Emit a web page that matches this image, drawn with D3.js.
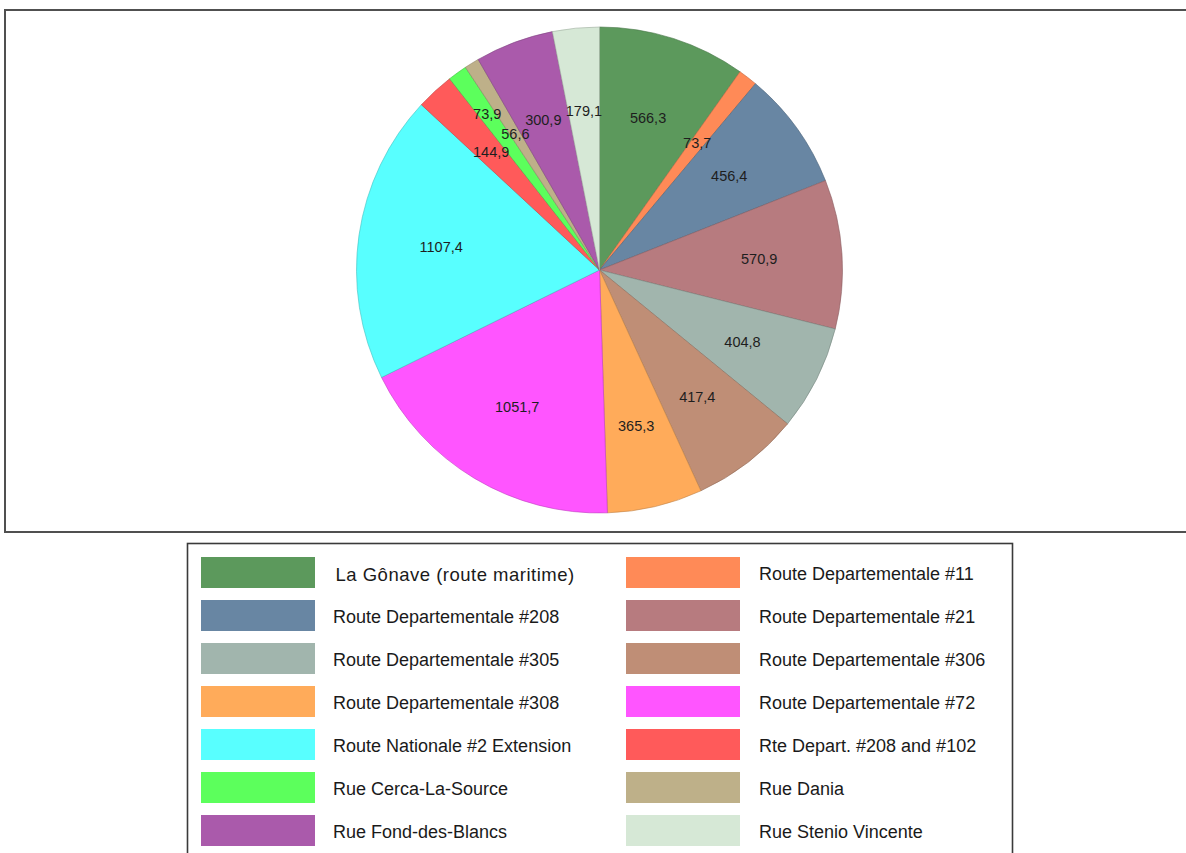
<!DOCTYPE html>
<html>
<head>
<meta charset="utf-8">
<script src="https://cdn.jsdelivr.net/npm/d3@7"></script>
<style>
  html, body { margin: 0; padding: 0; background: #fff; }
  svg { display: block; }
</style>
</head>
<body>
<svg id="chart" width="1186" height="853"></svg>
<script>
const categories = [
  "La Gônave (route maritime)",
  "Route Departementale #11",
  "Route Departementale #208",
  "Route Departementale #21",
  "Route Departementale #305",
  "Route Departementale #306",
  "Route Departementale #308",
  "Route Departementale #72",
  "Route Nationale #2 Extension",
  "Rte Depart. #208 and #102",
  "Rue Cerca-La-Source",
  "Rue Dania",
  "Rue Fond-des-Blancs",
  "Rue Stenio Vincente"
];
const values = [566.3, 73.7, 456.4, 570.9, 404.8, 417.4, 365.3, 1051.7, 1107.4, 144.9, 73.9, 56.6, 300.9, 179.1];
const colors = [
  "#5c995c", "#ff8a57", "#6886a3", "#b77b7f", "#a1b5ad", "#bf8e76", "#ffab5a",
  "#ff55ff", "#58ffff", "#ff5a5a", "#5cff5c", "#beb089", "#aa5aab", "#d6e8d6"
];

const svg = d3.select("#chart");

// chart frame
svg.append("rect").attr("x", 5).attr("y", 10).attr("width", 1200).attr("height", 522)
  .attr("fill", "#fff").attr("stroke", "#505050").attr("stroke-width", 2);

const cx = 599.5, cy = 270, R = 243;
const g = svg.append("g").attr("transform", `translate(${cx},${cy})`);

const pie = d3.pie().sort(null).value(d => d.v);
const data = categories.map((c, i) => ({ c, v: values[i], col: colors[i] }));
const arcs = pie(data);
const arc = d3.arc().innerRadius(0).outerRadius(R);

g.selectAll("path.slice").data(arcs).join("path")
  .attr("class", "slice")
  .attr("d", arc)
  .attr("fill", d => d.data.col)
  .attr("stroke", d => d3.color(d.data.col).darker(0.8))
  .attr("stroke-width", 0.6);

// labels: mid-angle at inner radius, pushed outward on collision
const fmt = v => d3.format(".1f")(v).replace(".", ",");
const rIn = 160, rOut = 192, lh = 13;
const placed = [];
function overlaps(b) {
  return placed.some(p => !(b.x1 <= p.x0 || b.x0 >= p.x1 || b.y1 <= p.y0 || b.y0 >= p.y1));
}
arcs.forEach(d => {
  const a = (d.startAngle + d.endAngle) / 2;
  const t = fmt(d.data.v);
  const txt = g.append("text")
    .attr("text-anchor", "middle")
    .attr("dominant-baseline", "central")
    .attr("font-family", "'Liberation Sans', Arial, sans-serif")
    .attr("font-size", 14.5)
    .attr("fill", "#1e1e1e")
    .text(t);
  const w = txt.node().getComputedTextLength();
  const boxAt = r => {
    const x = Math.sin(a) * r, y = -Math.cos(a) * r;
    return { x, y, x0: x - w / 2, x1: x + w / 2, y0: y - lh / 2, y1: y + lh / 2 };
  };
  let b = boxAt(rIn);
  if (overlaps(b)) b = boxAt(rOut);
  placed.push(b);
  txt.attr("x", b.x).attr("y", b.y);
});

// legend
const lg = svg.append("g");
lg.append("rect").attr("x", 187.5).attr("y", 543.5).attr("width", 825).attr("height", 340)
  .attr("fill", "#fff").attr("stroke", "#3a3a3a").attr("stroke-width", 1.6);

const colX = [201, 626], textX = [333, 759];
const rowY0 = 557, rowStep = 43, swW = 114, swH = 31;
data.forEach((d, i) => {
  const col = i % 2, row = Math.floor(i / 2);
  const y = rowY0 + row * rowStep;
  lg.append("rect").attr("x", colX[col]).attr("y", y).attr("width", swW).attr("height", swH)
    .attr("fill", d.col);
  lg.append("text")
    .attr("x", textX[col] + (i === 0 ? 2.5 : 0))
    .attr("y", y + swH / 2 + 1.5)
    .attr("dominant-baseline", "central")
    .attr("font-family", "'Liberation Sans', Arial, sans-serif")
    .attr("font-size", i === 0 ? 18.5 : 18)
    .attr("letter-spacing", i === 0 ? 0.5 : 0)
    .attr("fill", "#1a1a1a")
    .text(d.c);
});
</script>
</body>
</html>
